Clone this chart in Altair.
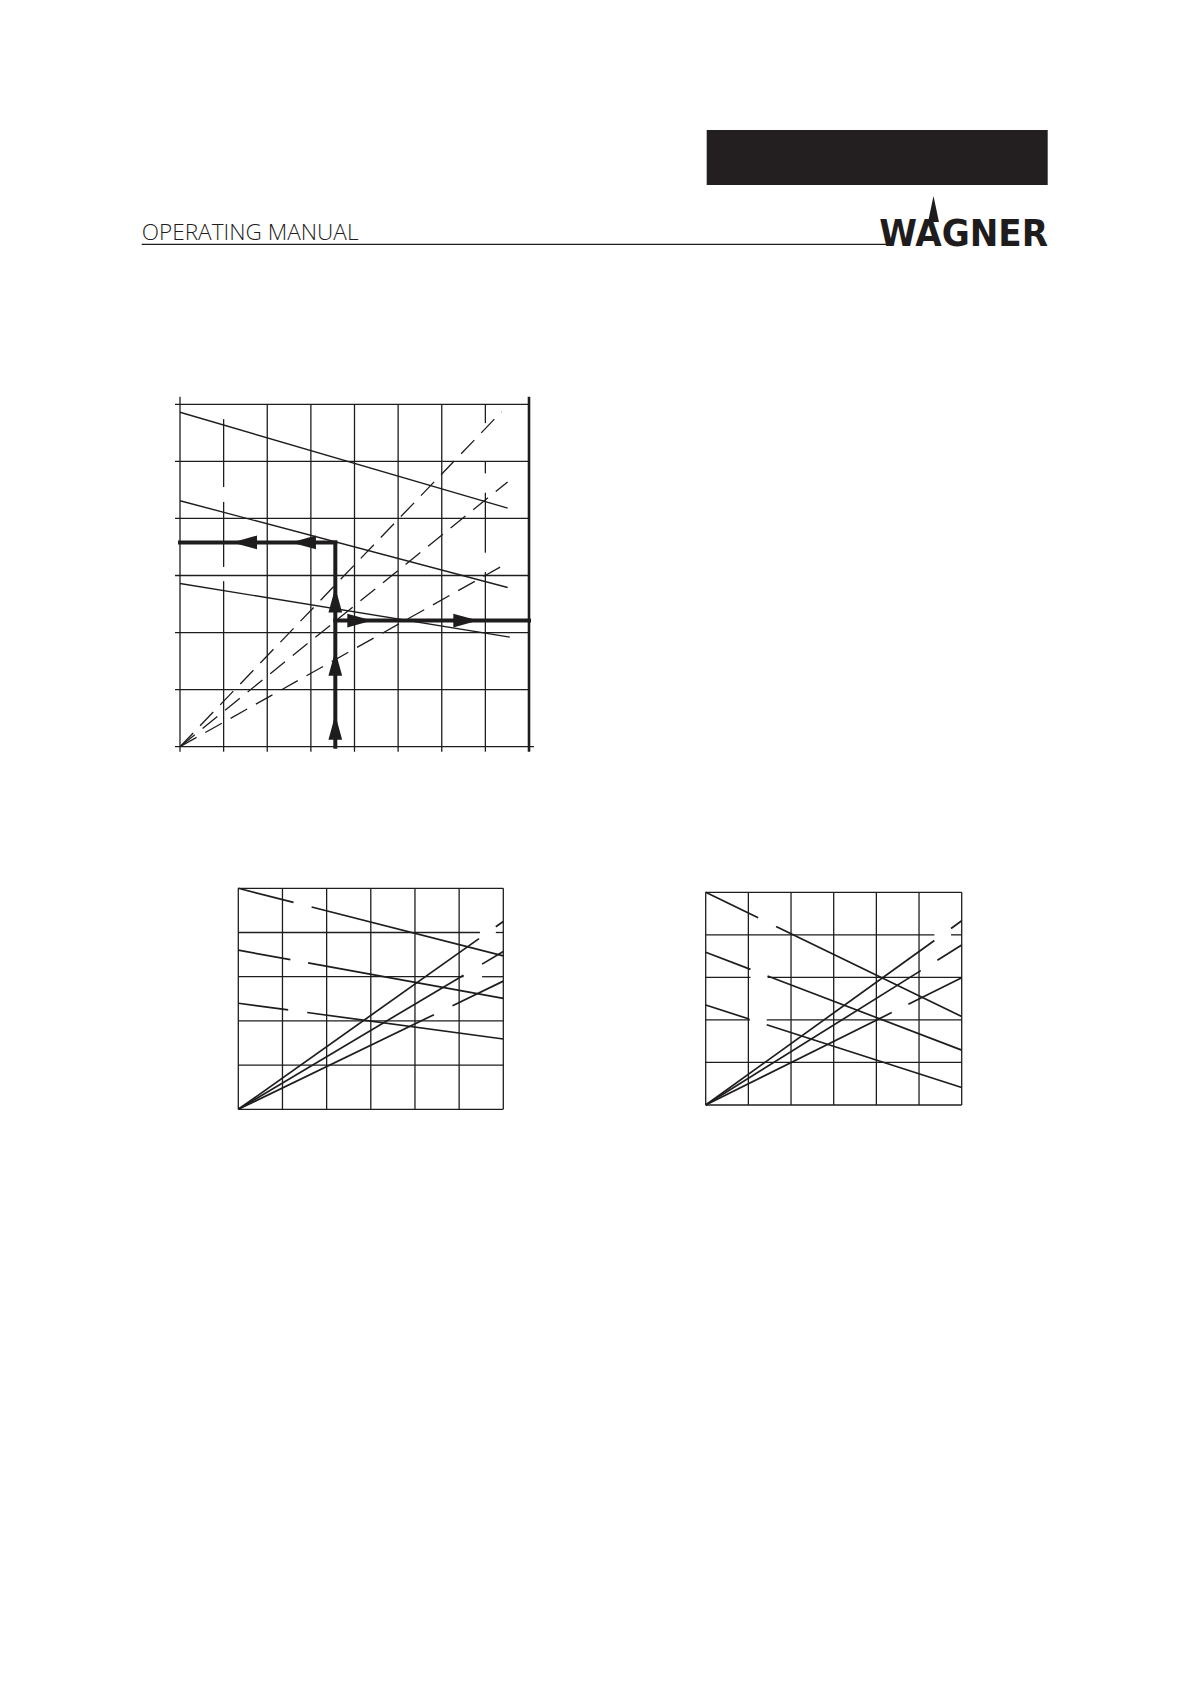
import altair as alt
import pandas as pd

# ---------------- canvas / layout ----------------
W, H = 1175, 1130          # drawing canvas (page minus 8px margin)
INK = "#1f1c1d"

# ---------------- header ----------------
HEADER_TITLE = "OPERATING MANUAL"
LOGO_TEXT = "WAGNER"

# ---------------- main nomogram (8 x 6 grid) ----------------
MAIN_COLS, MAIN_ROWS = 8, 6
MAIN_SOLID_Y0 = [5.86, 4.31, 2.86]      # value at x = 0
MAIN_SOLID_X1 = [7.51, 7.51, 7.56]      # end x
MAIN_SOLID_Y1 = [4.18, 2.79, 1.92]      # end y
MAIN_DASH_X1 = [7.37, 7.51, 7.51]       # dashed rays from origin, end x
MAIN_DASH_Y1 = [5.87, 4.64, 3.22]       # end y
PATH_X = 3.56
PATH_Y_LEFT = 3.58
PATH_Y_RIGHT = 2.21
ARROW_LEFT_X = [1.48, 2.83]
ARROW_RIGHT_X = [4.12, 6.55]
ARROW_UP_Y = [0.34, 1.46, 2.57]
MAIN_VGRID_GAPS = {1: [(5.74, 6.0), (4.29, 4.55), (2.90, 3.15)],
                   7: [(5.00, 5.67), (4.45, 4.79), (3.06, 3.40)]}

# ---------------- lower-left chart (6 x 5 grid) ----------------
BL_COLS, BL_ROWS = 6, 5
BL_DESC_Y0 = [5.00, 3.60, 2.40]
BL_DESC_Y6 = [3.47, 2.51, 1.59]
BL_DESC_GAPS = [(1.25, 1.66), (1.18, 1.58), (1.13, 1.56)]
BL_ASC_Y6 = [4.25, 3.57, 2.90]
BL_ASC_GAPS = [(5.45, 5.83), (5.10, 5.52), (4.43, 4.85)]
BL_HGRID_GAPS = {4: [(5.47, 5.83)], 3: [(5.10, 5.52)]}

# ---------------- lower-right chart (6 x 5 grid) ----------------
BR_COLS, BR_ROWS = 6, 5
BR_DESC_Y0 = [5.00, 3.59, 2.35]
BR_DESC_Y6 = [2.08, 1.29, 0.41]
BR_DESC_GAPS = [(1.23, 1.65), (1.05, 1.45), (1.02, 1.43)]
BR_ASC_Y6 = [4.33, 3.76, 2.99]
BR_ASC_GAPS = [(5.36, 5.75), (5.04, 5.43), (4.36, 4.75)]
BR_HGRID_GAPS = {4: [(5.36, 5.75)], 3: [(1.05, 1.45)], 2: [(1.04, 1.43)]}


# ---------------- helpers ----------------
def xdom(p0, p1, d0, d1):
    s = (p1 - p0) / (d1 - d0)
    lo = d0 - p0 / s
    return [lo, lo + W / s], s


def ydom(q0, q1, d0, d1):
    s = (q0 - q1) / (d1 - d0)
    return [d0 - (H - q0) / s, d0 + q0 / s], s


def visible(a, b, gaps):
    out, cur = [], a
    for g0, g1 in sorted(gaps):
        if g1 <= cur or g0 >= b:
            continue
        if g0 > cur:
            out.append((cur, g0))
        cur = max(cur, g1)
    if cur < b:
        out.append((cur, b))
    return out


def line_pieces(xa, ya, xb, yb, gaps):
    rows = []
    for a, b in visible(xa, xb, gaps):
        fa = (a - xa) / (xb - xa)
        fb = (b - xa) / (xb - xa)
        rows.append(dict(x=a, y=ya + fa * (yb - ya), x2=b, y2=ya + fb * (yb - ya)))
    return rows


def segs(df, xs, ys, **mark):
    return alt.Chart(pd.DataFrame(df)).mark_rule(color=INK, **mark).encode(
        x=alt.X("x:Q", scale=xs, axis=None),
        y=alt.Y("y:Q", scale=ys, axis=None),
        x2="x2:Q", y2="y2:Q")


def sc(dom):
    return alt.Scale(domain=dom, nice=False, zero=False)


# ================= main chart =================
mx_dom, msx = xdom(180 - 8, 529 - 8, 0, MAIN_COLS)
my_dom, msy = ydom(746.7 - 8, 404.3 - 8, 0, MAIN_ROWS)
mxs, mys = sc(mx_dom), sc(my_dom)
tku, tkv = 5 / msx, 5 / msy
v_top = MAIN_ROWS + 7.5 / msy

grid = []
for r in range(MAIN_ROWS + 1):
    grid.append(dict(x=-tku, y=r, x2=MAIN_COLS + (tku if r == 0 else 0), y2=r))
for c in range(1, MAIN_COLS):
    for a, b in visible(-tkv, MAIN_ROWS, MAIN_VGRID_GAPS.get(c, [])):
        grid.append(dict(x=c, y=a, x2=c, y2=b))
grid.append(dict(x=0, y=-tkv, x2=0, y2=v_top))
right_axis = [dict(x=MAIN_COLS, y=-tkv, x2=MAIN_COLS, y2=v_top)]

solid = [dict(x=0, y=y0, x2=x1, y2=y1)
         for y0, x1, y1 in zip(MAIN_SOLID_Y0, MAIN_SOLID_X1, MAIN_SOLID_Y1)]
dashed = [dict(x=0, y=0, x2=x1, y2=y1) for x1, y1 in zip(MAIN_DASH_X1, MAIN_DASH_Y1)]
path = [dict(x=PATH_X, y=0, x2=PATH_X, y2=PATH_Y_LEFT),
        dict(x=0, y=PATH_Y_LEFT, x2=PATH_X, y2=PATH_Y_LEFT),
        dict(x=PATH_X, y=PATH_Y_RIGHT, x2=MAIN_COLS, y2=PATH_Y_RIGHT)]

ARROW = "M1,0L-1,-0.55L-1,0.55Z"


def arrows(xv, yv, ang):
    df = pd.DataFrame(dict(x=xv, y=yv))
    return alt.Chart(df).mark_point(shape=ARROW, size=620, filled=True, opacity=1,
                                    color=INK, strokeWidth=0, angle=ang).encode(
        x=alt.X("x:Q", scale=mxs, axis=None), y=alt.Y("y:Q", scale=mys, axis=None))


main = alt.layer(
    segs(grid, mxs, mys, strokeWidth=1.3),
    segs(right_axis, mxs, mys, strokeWidth=2.6),
    segs(solid, mxs, mys, strokeWidth=1.4),
    segs(dashed, mxs, mys, strokeWidth=1.3, strokeDash=[19, 10]),
    segs(path, mxs, mys, strokeWidth=4, strokeCap="square"),
    arrows(ARROW_LEFT_X, [PATH_Y_LEFT] * len(ARROW_LEFT_X), 180),
    arrows(ARROW_RIGHT_X, [PATH_Y_RIGHT] * len(ARROW_RIGHT_X), 0),
    arrows([PATH_X] * len(ARROW_UP_Y), ARROW_UP_Y, 270),
)


# ================= lower charts =================
def small_chart(px0, px1, py0, py1, cols, rows, desc_y0, desc_y6, desc_gaps,
                asc_y6, asc_gaps, hgaps):
    xd, _ = xdom(px0 - 8, px1 - 8, 0, cols)
    yd, _ = ydom(py0 - 8, py1 - 8, 0, rows)
    xs, ys = sc(xd), sc(yd)
    g = []
    for r in range(rows + 1):
        for a, b in visible(0, cols, hgaps.get(r, [])):
            g.append(dict(x=a, y=r, x2=b, y2=r))
    for c in range(cols + 1):
        g.append(dict(x=c, y=0, x2=c, y2=rows))
    ln = []
    for y0, y6, gp in zip(desc_y0, desc_y6, desc_gaps):
        ln += line_pieces(0, y0, cols, y6, [gp])
    for y6, gp in zip(asc_y6, asc_gaps):
        ln += line_pieces(0, 0, cols, y6, [gp])
    return alt.layer(segs(g, xs, ys, strokeWidth=1.3),
                     segs(ln, xs, ys, strokeWidth=1.7))


bl = small_chart(238.3, 503.3, 1109.3, 888.3, BL_COLS, BL_ROWS, BL_DESC_Y0, BL_DESC_Y6,
                 BL_DESC_GAPS, BL_ASC_Y6, BL_ASC_GAPS, BL_HGRID_GAPS)
br = small_chart(705.7, 961.7, 1105.0, 892.3, BR_COLS, BR_ROWS, BR_DESC_Y0, BR_DESC_Y6,
                 BR_DESC_GAPS, BR_ASC_Y6, BR_ASC_GAPS, BR_HGRID_GAPS)

# ================= header (page decoration) =================
one = pd.DataFrame({"t": [HEADER_TITLE], "l": [LOGO_TEXT]})
head_box = alt.Chart(one).mark_rect(color="#231f20").encode(
    x=alt.value(698.7), x2=alt.value(1039.7), y=alt.value(122), y2=alt.value(177))
head_rule = alt.Chart(one).mark_rule(color=INK, strokeWidth=1.2).encode(
    x=alt.value(133.7), x2=alt.value(880), y=alt.value(236.3))
head_title = alt.Chart(one).mark_text(
    align="left", baseline="alphabetic", font="Open Sans", fontWeight=300,
    fontSize=22.6, color=INK).encode(x=alt.value(133.7), y=alt.value(231.5), text="t:N")
head_logo = alt.Chart(one).mark_text(
    align="right", baseline="alphabetic", font="DejaVu Sans Condensed",
    fontWeight="bold", fontSize=38, color=INK).encode(
    x=alt.value(1040), y=alt.value(237.5), text="l:N")
head_spike = alt.Chart(one).mark_point(
    shape="M0,-1L0.42,1L-0.42,1Z", size=676, filled=True, opacity=1,
    color=INK, strokeWidth=0).encode(x=alt.value(925.5), y=alt.value(201))

chart = alt.layer(head_box, head_rule, head_title, head_logo, head_spike,
                  main, bl, br).resolve_scale(
    x="independent", y="independent").properties(
    width=W, height=H, padding=0).configure_view(stroke=None)

chart.save("out.html", embed_options={"renderer": "svg", "actions": False})
